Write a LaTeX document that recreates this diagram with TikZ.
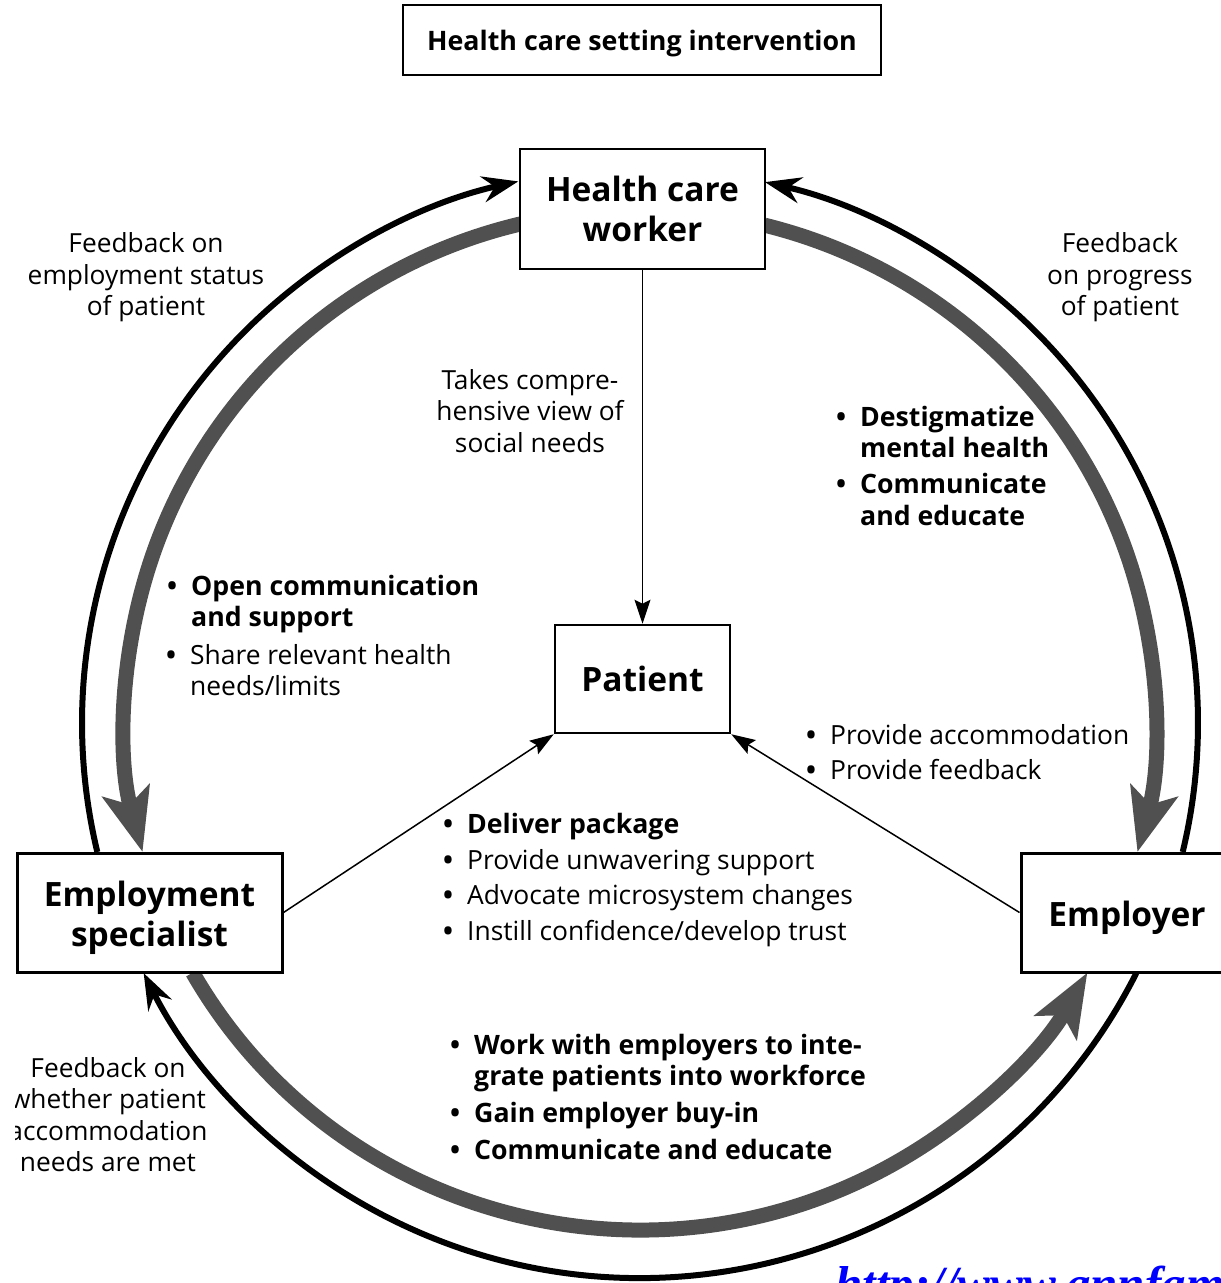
\documentclass[tikz,border=0pt]{standalone}
\usepackage{fontspec}
\setmainfont{Open Sans}
\newfontfamily\urlserif{Liberation Serif}
\usetikzlibrary{arrows.meta,calc}
\definecolor{arcgray}{RGB}{80,80,80}
\definecolor{urlblue}{RGB}{0,0,255}
\newcommand{\bul}{\makebox[24pt][l]{\bfseries\textbullet}}
\newcommand{\ind}{\hspace*{24pt}}
\tikzset{
  boxnode/.style={draw, fill=white, inner sep=0pt, align=center,
    font=\fontsize{33.5}{40}\selectfont\bfseries},
  lbl/.style={inner sep=0pt, align=center, font=\fontsize{26.3}{31.5}\selectfont},
  rlist/.style={inner sep=0pt, align=left, anchor=west, font=\fontsize{26.4}{31.5}\selectfont},
  blist/.style={inner sep=0pt, align=left, anchor=west, font=\fontsize{26.7}{31.5}\selectfont\bfseries},
  fbarrow/.style={line width=6pt, -{Stealth[length=36pt,width=26pt,inset=12pt]}},
  grayarrow/.style={line width=15pt, draw=arcgray, -{Stealth[length=63pt,width=48pt,inset=14pt]}},
  conn/.style={line width=1.5pt, -{Stealth[length=24pt,width=16pt,inset=4pt]}}
}
\begin{document}
\begin{tikzpicture}[x=1pt,y=-1pt]
\useasboundingbox (0,0) rectangle (1221,1283);
\begin{scope}
\clip (15,-5) rectangle (1221,1283);
\coordinate (cb) at (640,723);
\coordinate (cg) at (640,720);
% gray inner arcs
\draw[grayarrow] ($(cg)+(256.9:515 and 510)$) arc[start angle=256.9, end angle=165, x radius=515, y radius=510];
\draw[grayarrow] ($(cg)+(-76.0:515 and 510)$) arc[start angle=-76.0, end angle=15, x radius=515, y radius=510];
\draw[grayarrow] ($(cg)+(150.3:515 and 510)$) arc[start angle=150.3, end angle=29.7, x radius=515, y radius=510];
% black outer feedback arcs
\draw[fbarrow] ($(cb)+(166.56:558 and 555)$) arc[start angle=166.56, end angle=257.4, x radius=558, y radius=555];
\draw[fbarrow] ($(cb)+(13.44:558 and 555)$) arc[start angle=13.44, end angle=-77.06, x radius=558, y radius=555];
\draw[fbarrow] ($(cb)+(26.78:556 and 555)$) arc[start angle=26.78, end angle=153.22, x radius=556, y radius=555];

% boxes
\node[boxnode, line width=1.5pt, minimum width=478, minimum height=70, font=\fontsize{26.8}{32}\selectfont\bfseries] (title) at (642,40) {\rule{0pt}{27.3pt}Health care setting intervention};
\node[boxnode, line width=1.5pt, minimum width=245, minimum height=120] (hcw) at (642.5,209) {Health care\\worker};
\node[boxnode, line width=2.5pt, minimum width=175, minimum height=108] (patient) at (642.5,679) {Patient};
\node[boxnode, line width=3pt, minimum width=265, minimum height=119] (es) at (149.5,912.5) {\rule{0pt}{36pt}Employment\\specialist};
\node[boxnode, line width=3pt, minimum width=212, minimum height=119] (employer) at (1127,912.5) {\rule{0pt}{36pt}Employer};

% thin connectors
\draw[conn] (hcw.south) -- (patient.north);
\draw[conn] (es.east) -- (patient.south west);
\draw[conn] (employer.west) -- (patient.south east);

% labels
\node[lbl] (fbl) at (146,277.5) {Feedback on\\employment status\\of patient};
\node[lbl] (fbr) at (1120,277.5) {Feedback\\on progress\\of patient};
\node[lbl] (takes) at (530,411) {Takes compre-\\hensive view of\\social needs};
\node[lbl] (fbb) at (108,1114.5) {Feedback on\\whether patient\\accommodation\\needs are met};

\node[blist] (dest) at (836,432) {\bul Destigmatize\\\ind mental health};
\node[blist] (comm) at (836,499.5) {\bul Communicate\\\ind and educate};

\node[blist] (open) at (167,604) {\bul Open communication\\\ind and support};
\node[rlist] (share) at (166,670) {\bul Share relevant health\\\ind needs/limits};

\node[rlist] (accom) at (806,735) {\bul Provide accommodation};
\node[rlist] (feedb) at (806,770) {\bul Provide feedback};

\node[blist] (deliver) at (443,827) {\bul Deliver package};
\node[rlist] (unwav) at (443,863) {\bul Provide unwavering support};
\node[rlist] (advoc) at (443,898) {\bul Advocate microsystem changes};
\node[rlist] (instill) at (443,934) {\bul Instill confidence/develop trust};

\node[blist] (work) at (450,1063) {\bul Work with employers to inte-\\\ind grate patients into workforce};
\node[blist] (gain) at (450,1116) {\bul Gain employer buy-in};
\node[blist] (commb) at (450,1149) {\bul Communicate and educate};

\node[inner sep=0pt, anchor=base west, text=urlblue, font=\fontsize{49}{55}\urlserif\bfseries\itshape] (url) at (835,1300) {http://www.annfam};
\end{scope}
\end{tikzpicture}
\end{document}
